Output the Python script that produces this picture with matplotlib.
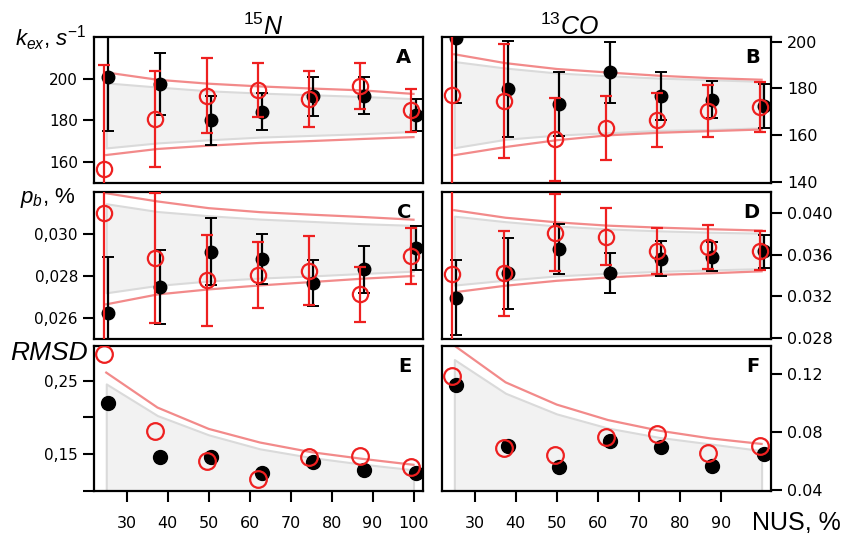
import numpy as np
import matplotlib
matplotlib.use('Agg')
import matplotlib.pyplot as plt

plt.rcParams['mathtext.fontset'] = 'custom'
plt.rcParams['mathtext.it'] = 'Liberation Sans:italic'
plt.rcParams['mathtext.rm'] = 'Liberation Sans'

# NUS sampling, %
nus = np.array([25, 37.5, 50, 62.5, 75, 87.5, 100])

# ---- panel A: 15N kex ----
a_black = [200.6, 197.4, 180.0, 184.2, 191.5, 191.8, 182.7]
a_black_err = [25.6, 15.0, 11.7, 9.0, 9.2, 8.8, 7.7]
a_red = [156.8, 180.8, 191.8, 194.6, 190.3, 196.5, 184.8]
a_red_err = [50.0, 23.0, 18.0, 13.0, 13.3, 11.0, 10.3]
a_env_hi = [203.0, 199.5, 197.6, 196.3, 195.3, 194.4, 192.7]
a_env_lo = [163.4, 166.3, 167.9, 169.2, 170.1, 171.1, 172.0]
a_gray_hi = [198.0, 196.0, 194.2, 193.1, 192.3, 191.5, 190.4]
a_gray_lo = [166.8, 169.2, 170.7, 172.0, 172.8, 173.6, 174.7]

# ---- panel B: 13CO kex ----
b_black = [201.7, 179.7, 173.4, 186.8, 176.9, 175.2, 172.6]
b_black_err = [28.0, 20.6, 13.7, 12.9, 10.3, 8.0, 9.4]
b_red = [177.0, 174.5, 158.2, 163.1, 166.4, 170.2, 172.1]
b_red_err = [50.0, 24.4, 17.8, 13.8, 11.5, 11.2, 10.8]
b_env_hi = [194.6, 190.8, 188.3, 186.8, 185.4, 184.4, 183.7]
b_env_lo = [151.4, 154.9, 157.8, 159.9, 161.0, 161.7, 162.4]
b_gray_hi = [191.5, 188.7, 186.6, 185.4, 184.4, 183.7, 183.0]
b_gray_lo = [154.6, 158.2, 160.0, 161.0, 162.0, 162.4, 163.1]

# ---- panel C: 15N pb ----
c_black = [0.02622, 0.02747, 0.02915, 0.02882, 0.02765, 0.02831, 0.02934]
c_black_err = [0.0027, 0.00175, 0.0016, 0.0012, 0.0011, 0.0011, 0.00106]
c_red = [0.0310, 0.02885, 0.02779, 0.02803, 0.02825, 0.02712, 0.02894]
c_red_err = [0.008, 0.0031, 0.00215, 0.00157, 0.00165, 0.0013, 0.00134]
c_env_hi = [0.03194, 0.03155, 0.03123, 0.03104, 0.03092, 0.03081, 0.03068]
c_env_lo = [0.02665, 0.02712, 0.02736, 0.02755, 0.02771, 0.02787, 0.02800]
c_gray_hi = [0.03144, 0.03107, 0.03087, 0.03071, 0.03060, 0.03049, 0.03041]
c_gray_lo = [0.02720, 0.02755, 0.02776, 0.02790, 0.02800, 0.02812, 0.02823]

# ---- panel D: 13CO pb ----
d_black = [0.03184, 0.03420, 0.03657, 0.03424, 0.03562, 0.03578, 0.03631]
d_black_err = [0.0036, 0.0034, 0.0024, 0.0019, 0.0017, 0.0014, 0.0016]
d_red = [0.03411, 0.03420, 0.03811, 0.03773, 0.03631, 0.03672, 0.03638]
d_red_err = [0.012, 0.0041, 0.0037, 0.0027, 0.0022, 0.0021, 0.0019]
d_env_hi = [0.04025, 0.03953, 0.03909, 0.03877, 0.03858, 0.03843, 0.03830]
d_env_lo = [0.03238, 0.03301, 0.03348, 0.03380, 0.03405, 0.03420, 0.03439]
d_gray_hi = [0.03968, 0.03915, 0.03874, 0.03846, 0.03827, 0.03814, 0.03805]
d_gray_lo = [0.03307, 0.03354, 0.03395, 0.03420, 0.03439, 0.03452, 0.03465]

# ---- panel E: 15N RMSD ----
e_black = [0.2193, 0.1460, 0.1464, 0.1243, 0.1392, 0.1279, 0.1243]
e_red = [0.2862, 0.1817, 0.1401, 0.1166, 0.1460, 0.1482, 0.1320]
e_env_hi = [0.2609, 0.2134, 0.1844, 0.1659, 0.1528, 0.1437, 0.1356]
e_gray_hi = [0.2455, 0.2025, 0.1763, 0.1573, 0.1455, 0.1365, 0.1288]

# ---- panel F: 13CO RMSD ----
f_black = [0.1125, 0.0706, 0.0562, 0.0740, 0.0699, 0.0564, 0.0649]
f_red = [0.1187, 0.0690, 0.0644, 0.0763, 0.0786, 0.0656, 0.0701]
f_env_hi = [0.1393, 0.1141, 0.0988, 0.0882, 0.0809, 0.0756, 0.0718]
f_gray_hi = [0.1297, 0.1066, 0.0924, 0.0827, 0.0763, 0.0718, 0.0672]

xt_left = [30, 40, 50, 60, 70, 80, 90, 100]
xt_right = [30, 40, 50, 60, 70, 80, 90]

RED = '#ee2020'
ENV = '#f28a8a'
SHADE = '#f2f2f2'
SHADE_EDGE = '#dadada'
shift = 0.5

fig = plt.figure(figsize=(8.42, 5.33), dpi=100)
lx, rx, w = 0.1116, 0.525, 0.3907
rows = [(0.6567, 0.2739), (0.364, 0.2758), (0.0788, 0.272)]
axes = {}
for i, (b, h) in enumerate(rows):
    axes['ACE'[i]] = fig.add_axes([lx, b, w, h])
    axes['BDF'[i]] = fig.add_axes([rx, b, w, h])


def style(ax, letter, right, xticks=None):
    ax.set_xlim(22, 102.3)
    for s in ax.spines.values():
        s.set_linewidth(1.6)
    ax.tick_params(axis='y', direction='out', length=8, width=1.5,
                   labelsize=11.5 if right else 11,
                   left=not right, labelleft=not right,
                   right=right, labelright=right)
    if xticks:
        ax.set_xticks(xticks)
        ax.tick_params(axis='x', direction='out', length=8, width=1.5,
                       labelsize=11.5, pad=10)
    else:
        ax.tick_params(axis='x', bottom=False, labelbottom=False)
    ax.text(0.965, 0.86, letter, transform=ax.transAxes, ha='right',
            va='center', fontsize=14, fontweight='bold')


def band_panel(ax, black, black_err, red, red_err, env_hi, env_lo, g_hi, g_lo):
    ax.fill_between(nus, g_lo, g_hi, facecolor=SHADE, edgecolor=SHADE_EDGE,
                    linewidth=1.5, zorder=1)
    ax.plot(nus, env_hi, color=ENV, lw=1.6, zorder=2)
    ax.plot(nus, env_lo, color=ENV, lw=1.6, zorder=2)
    ax.errorbar(nus + shift, black, yerr=black_err, fmt='o', color='black',
                ms=9, elinewidth=1.6, capsize=4.5, capthick=1.4, zorder=3)
    ax.errorbar(nus - shift, red, yerr=red_err, fmt='o', color=RED,
                mfc='none', mec=RED, mew=1.6, ms=11, elinewidth=1.6,
                capsize=4.5, capthick=1.6, zorder=4)


def rmsd_panel(ax, black, red, env_hi, g_hi, ymin):
    ax.fill_between(nus, ymin, g_hi, facecolor=SHADE, edgecolor=SHADE_EDGE,
                    linewidth=1.5, zorder=1)
    ax.plot(nus, env_hi, color=ENV, lw=1.6, zorder=2)
    ax.plot(nus + shift, black, 'o', color='black', ms=10, zorder=3)
    ax.plot(nus - shift, red, 'o', mfc='none', mec=RED, mew=1.6, ms=12, zorder=4)


ax = axes['A']
band_panel(ax, a_black, a_black_err, a_red, a_red_err, a_env_hi, a_env_lo, a_gray_hi, a_gray_lo)
ax.set_ylim(150, 220)
ax.set_yticks([160, 180, 200])
style(ax, 'A', False)

ax = axes['B']
band_panel(ax, b_black, b_black_err, b_red, b_red_err, b_env_hi, b_env_lo, b_gray_hi, b_gray_lo)
ax.set_ylim(139.5, 202)
ax.set_yticks([140, 160, 180, 200])
style(ax, 'B', True)

ax = axes['C']
band_panel(ax, c_black, c_black_err, c_red, c_red_err, c_env_hi, c_env_lo, c_gray_hi, c_gray_lo)
ax.set_ylim(0.0250, 0.0320)
ax.set_yticks([0.026, 0.028, 0.030])
ax.set_yticklabels(['0,026', '0,028', '0,030'])
style(ax, 'C', False)

ax = axes['D']
band_panel(ax, d_black, d_black_err, d_red, d_red_err, d_env_hi, d_env_lo, d_gray_hi, d_gray_lo)
ax.set_ylim(0.0279, 0.0420)
ax.set_yticks([0.028, 0.032, 0.036, 0.040])
ax.set_yticklabels(['0.028', '0.032', '0.036', '0.040'])
style(ax, 'D', True)

ax = axes['E']
rmsd_panel(ax, e_black, e_red, e_env_hi, e_gray_hi, 0.0)
ax.set_ylim(0.100, 0.297)
ax.set_yticks([0.10, 0.15, 0.20, 0.25])
ax.set_yticklabels(['', '0,15', '', '0,25'])
style(ax, 'E', False, xt_left)

ax = axes['F']
rmsd_panel(ax, f_black, f_red, f_env_hi, f_gray_hi, 0.0)
ax.set_ylim(0.0395, 0.139)
ax.set_yticks([0.04, 0.08, 0.12])
ax.set_yticklabels(['0.04', '0.08', '0.12'])
style(ax, 'F', True, xt_right)

lab = dict(fontsize=16, family='Liberation Sans')
fig.text(0.018, 0.928, r'$k_{ex}$, $s^{-1}$', ha='left', va='center', **lab)
fig.text(0.024, 0.628, r'$p_b$, %', ha='left', va='center', **lab)
fig.text(0.012, 0.338, 'RMSD', ha='left', va='center', style='italic',
         fontsize=19, family='Liberation Sans')
fig.text(0.313, 0.95, r'$^{15}N$', ha='center', va='center', fontsize=18)
fig.text(0.677, 0.95, r'$^{13}CO$', ha='center', va='center', fontsize=18)
fig.text(0.998, 0.02, 'NUS, %', ha='right', va='center', fontsize=18,
         family='Liberation Sans')

fig.savefig('out.png', dpi=100)
